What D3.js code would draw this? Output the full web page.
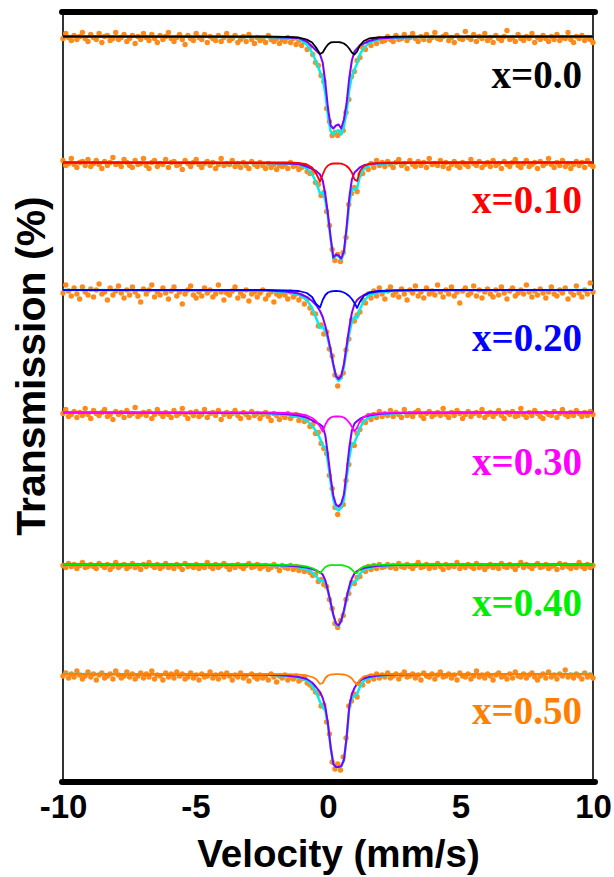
<!DOCTYPE html>
<html>
<head>
<meta charset="utf-8">
<script src="https://cdn.jsdelivr.net/npm/d3@7"></script>
<style>
  body { margin: 0; background: #fff; }
  svg { display: block; }
</style>
</head>
<body>
<svg id="chart" width="614" height="877"></svg>
<script>
// ---- data ----------------------------------------------------------------
const compositions = ["x=0.0", "x=0.10", "x=0.20", "x=0.30", "x=0.40", "x=0.50"];
const doubletColors = ["#000000", "#ff0000", "#0000ff", "#ff00ff", "#00ee00", "#ff8000"];
const xTicks = [-10, -5, 0, 5, 10];
const velocityRange = [-10, 10];          // mm/s
const channelCount = 192;                  // folded spectrum channels
const transmissionRange = [102.45, 25.45]; // stacked transmission (%) shown top -> bottom
const stackShift = [0, 12.6, 25.35, 37.6, 52.8, 63.75]; // vertical offset of each spectrum (%)

// measured absorption (100 - transmission, %) per channel
const obs_x00 = [
0.2,-0.3,0.1,0.4,-0.1,0.3,0.0,-0.4,0.2,0.5,
-0.2,0.1,0.3,-0.3,0.6,0.0,-0.1,0.4,0.2,-0.4,
0.3,0.1,-0.2,0.5,0.2,-0.1,0.7,0.0,0.3,-0.3,
0.1,0.4,-0.2,0.2,0.6,-0.1,0.3,0.0,-0.4,0.2,
0.5,0.1,-0.2,0.3,0.8,-0.1,0.2,0.4,-0.3,0.1,
0.3,-0.2,0.6,0.0,0.2,0.4,-0.1,0.5,0.1,-0.3,
0.4,0.2,-0.1,0.6,0.3,0.0,0.5,-0.2,0.3,0.7,
0.1,0.4,0.2,0.6,-0.1,0.3,0.5,0.2,0.7,0.3,
0.5,0.1,0.6,0.2,0.8,0.4,
0.9,0.5,1.3,1.0,1.8,2.6,2.9,3.9,4.5,7.2,
8.5,9.9,9.6,9.9,9.6,9.4,7.6,6.3,4.0,3.5,
2.4,2.1,1.1,1.3,0.6,0.9,0.3,0.7,0.2,0.5,
0.4,0.0,0.3,0.5,-0.1,0.3,0.2,-0.2,0.4,0.1,
-0.3,0.2,0.5,0.0,0.3,-0.2,0.4,0.1,-0.4,0.2,
0.3,0.0,-0.2,0.4,0.1,0.6,-0.1,0.2,0.3,-0.5,
0.1,0.3,-0.2,0.5,0.0,0.2,-0.3,0.4,0.1,0.6,
-0.1,0.2,0.4,0.0,-0.6,0.3,0.1,0.5,-0.2,0.2,
0.4,0.0,0.2,-0.3,0.6,0.1,0.3,-0.1,0.2,0.5,
0.0,0.3,-0.2,0.4,0.1,0.2,-0.4,0.3,0.6,0.0,
0.2,-0.1,0.4,0.1,0.3,0.6];
const obs_x10 = [
-0.2,0.3,0.1,-0.4,0.2,0.5,0.0,-0.1,0.3,-0.3,
0.4,0.1,-0.2,0.2,0.6,-0.1,0.3,0.0,-0.5,0.2,
0.1,0.4,-0.3,0.0,0.3,0.5,-0.2,0.2,0.1,-0.4,
0.3,0.6,0.0,-0.2,0.4,0.1,0.2,-0.3,0.5,0.0,
-0.1,0.3,0.2,0.7,-0.2,0.1,0.4,0.0,-0.3,0.2,
0.5,0.1,-0.1,0.3,0.0,0.6,0.2,-0.4,0.3,0.1,
0.2,-0.2,0.4,0.1,0.5,0.0,0.3,0.6,-0.1,0.2,
0.4,0.0,0.3,0.6,0.1,0.5,0.2,0.7,0.3,0.4,
0.2,0.6,0.0,0.4,0.3,0.7,
0.5,0.3,0.9,1.1,1.0,2.0,2.2,3.3,3.0,4.9,
6.3,8.7,9.8,9.2,9.9,9.0,7.5,4.2,3.1,2.5,
2.9,1.2,1.1,0.4,0.7,0.1,0.5,-0.2,0.3,0.0,
0.4,-0.1,0.2,0.5,0.0,-0.3,0.3,0.1,0.6,-0.2,
0.2,0.4,-0.1,0.3,0.0,0.5,-0.4,0.2,0.1,0.3,
-0.2,0.4,0.0,0.6,0.2,-0.1,0.3,0.5,0.0,0.2,
0.4,-0.3,0.1,0.3,-0.1,0.5,0.2,0.0,0.4,-0.2,
0.3,0.1,0.6,-0.1,0.2,0.4,0.0,-0.3,0.3,0.5,
0.1,-0.2,0.4,0.2,0.0,0.6,-0.1,0.3,0.1,-0.4,
0.2,0.5,0.0,0.3,-0.2,0.4,0.1,0.6,0.2,-0.1,
0.3,0.0,0.5,-0.2,0.2,0.4];
const obs_x20 = [
0.3,-0.5,0.1,0.6,-0.2,0.4,0.9,-0.3,0.2,0.5,
-0.1,0.7,0.0,-0.6,0.4,0.2,1.0,-0.2,0.5,0.1,
-0.4,0.3,0.8,0.0,0.5,-0.3,0.2,0.6,1.2,-0.1,
0.4,0.0,-0.5,0.7,0.2,0.5,-0.2,0.3,0.9,0.1,
-0.3,0.6,0.2,1.4,0.4,0.0,-0.4,0.5,0.8,0.2,
0.6,-0.2,0.3,0.0,0.7,0.4,-0.5,0.2,1.0,0.3,
0.5,0.1,-0.3,0.8,0.3,0.6,0.0,1.1,0.4,0.2,
0.7,0.3,0.0,0.9,0.5,0.2,1.2,0.4,0.6,0.3,
0.5,0.9,0.2,0.7,0.4,1.0,
0.6,1.4,0.9,1.8,2.3,2.4,3.6,3.5,4.4,4.2,
5.9,6.6,8.5,9.6,8.7,8.3,6.0,4.9,3.0,3.1,
2.5,2.2,1.0,1.3,0.4,0.8,0.1,0.6,-0.2,0.4,
0.9,0.1,-0.3,0.5,0.2,0.7,-0.1,0.4,1.0,0.0,
0.3,-0.4,0.6,0.2,0.8,-0.2,0.4,0.1,0.5,-0.5,
0.2,0.7,0.0,0.4,-0.3,0.6,0.2,1.3,0.1,-0.2,
0.5,0.3,-0.4,0.6,0.0,0.8,0.2,-0.1,0.4,0.7,
0.0,0.5,-0.3,0.3,0.9,0.1,-0.2,0.6,0.3,0.0,
0.4,-0.5,0.2,0.7,0.1,0.5,-0.1,0.3,0.8,0.2,
-0.3,0.4,0.6,0.0,0.3,-0.2,0.9,0.2,0.5,-0.4,
0.3,0.7,0.0,0.4,-0.7,0.2];
const obs_x30 = [
0.1,-0.3,0.4,0.2,-0.1,0.5,0.0,0.3,-0.4,0.2,
0.6,-0.2,0.1,0.3,0.0,-0.3,0.4,0.2,0.7,-0.1,
0.2,0.0,0.5,-0.2,0.3,0.1,-0.5,0.4,0.2,0.0,
0.3,-0.1,0.6,0.2,-0.3,0.1,0.4,0.0,0.2,0.5,
-0.2,0.3,0.1,-0.4,0.2,0.6,0.0,0.3,-0.1,0.4,
0.2,-0.3,0.5,0.1,0.0,0.3,-0.2,0.7,0.2,0.0,
0.4,0.1,-0.2,0.3,0.6,0.0,0.2,0.5,-0.1,0.3,
0.1,0.6,0.2,0.0,0.4,0.8,0.1,0.3,0.7,0.2,
0.5,0.1,0.6,0.3,0.2,0.8,
0.4,0.9,0.7,1.4,1.2,2.1,2.0,3.1,3.6,4.1,
6.3,7.6,9.5,10.2,9.4,9.2,6.8,5.2,3.2,3.3,
2.1,1.7,0.9,1.0,0.3,0.7,0.2,0.5,-0.1,0.4,
0.1,0.3,-0.2,0.4,0.0,0.2,0.5,-0.3,0.3,0.1,
0.4,0.0,-0.2,0.3,0.6,0.1,-0.1,0.4,0.2,0.0,
0.3,-0.4,0.2,0.5,0.0,0.3,-0.2,0.1,0.6,0.2,
-0.1,0.4,0.1,0.0,0.3,-0.3,0.5,0.2,0.0,0.4,
0.1,-0.2,0.3,0.6,0.0,0.2,-0.1,0.4,0.3,-0.4,
0.2,0.5,0.0,0.3,-0.2,0.1,0.4,0.6,0.0,0.2,
0.3,-0.1,0.5,0.1,-0.3,0.2,0.4,0.0,0.3,-0.2,
0.1,0.4,0.0,0.3,-0.1,0.2];
const obs_x40 = [
0.1,0.3,-0.1,0.2,0.0,0.4,0.1,-0.2,0.3,0.2,
0.0,0.2,0.4,-0.1,0.1,0.3,0.0,0.5,0.2,-0.2,
0.3,0.1,0.0,0.4,0.2,-0.1,0.3,0.1,0.5,0.0,
0.2,-0.2,0.1,0.3,0.0,0.4,0.2,-0.1,0.3,0.1,
0.4,0.0,0.2,0.5,-0.1,0.2,0.1,0.3,0.0,0.4,
0.1,0.3,-0.2,0.2,0.4,0.0,0.3,0.1,-0.1,0.2,
0.5,0.1,0.3,0.0,0.2,0.4,0.1,-0.1,0.3,0.2,
0.0,0.4,0.2,0.1,0.5,0.3,0.0,0.2,0.6,0.1,
0.3,0.4,0.1,0.5,0.2,0.6,
0.3,0.7,0.5,0.8,1.1,1.0,1.7,1.5,2.0,2.2,
3.5,4.4,5.9,6.3,5.6,5.1,3.5,2.9,1.8,1.9,
1.3,1.2,0.5,0.7,0.2,0.5,0.1,0.4,0.0,0.3,
0.2,0.0,0.3,0.1,0.4,-0.1,0.2,0.3,0.0,0.2,
0.4,0.1,-0.2,0.3,0.2,0.0,0.4,0.1,0.3,-0.1,
0.2,0.5,0.0,0.3,0.1,0.2,-0.2,0.4,0.1,0.3,
0.0,0.2,0.4,-0.1,0.3,0.1,0.5,0.2,0.0,0.3,
0.1,0.4,-0.1,0.2,0.3,0.0,0.2,0.5,0.1,-0.2,
0.3,0.0,0.2,0.4,0.1,-0.1,0.3,0.2,0.0,0.4,
0.2,0.1,0.5,-0.1,0.3,0.0,0.2,0.4,0.1,0.3,
-0.2,0.2,0.4,0.0,0.3,0.1];
const obs_x50 = [
0.2,-0.1,0.4,0.0,0.3,-0.3,0.1,0.5,0.2,-0.2,
0.3,0.0,0.6,0.1,-0.1,0.4,0.2,0.0,0.5,-0.3,
0.1,0.4,0.2,-0.2,0.3,0.0,0.5,0.2,-0.1,0.4,
0.0,0.3,-0.3,0.5,0.1,0.2,0.6,-0.1,0.3,0.0,
0.4,-0.2,0.2,0.0,0.5,0.3,-0.1,0.4,0.1,0.6,
0.0,0.3,0.2,-0.2,0.4,0.1,0.5,0.0,0.3,-0.1,
0.2,0.6,0.1,0.3,-0.1,0.4,0.2,0.7,0.0,0.3,
0.5,0.1,0.4,0.2,0.6,0.0,0.3,0.8,0.2,0.4,
0.1,0.6,0.3,0.5,0.2,0.7,
0.5,0.3,0.9,1.1,1.4,1.8,2.0,3.2,3.1,4.8,
6.0,8.8,9.5,9.0,9.6,8.3,6.4,3.2,2.7,2.0,
2.3,1.0,1.1,0.4,0.7,0.2,0.5,0.0,0.4,0.1,
0.3,-0.1,0.4,0.2,0.0,0.5,0.1,-0.2,0.3,0.2,
0.0,0.4,0.1,0.6,-0.1,0.2,0.3,0.0,0.5,0.1,
-0.2,0.3,0.2,0.0,0.4,0.1,0.6,-0.1,0.2,0.3,
0.0,0.5,0.2,-0.3,0.3,0.1,0.4,0.0,0.2,0.6,
0.1,-0.1,0.3,0.2,0.5,0.0,0.4,-0.2,0.2,0.3,
0.0,0.4,0.1,-0.1,0.3,0.6,0.2,0.0,0.4,-0.2,
0.3,0.1,0.5,0.0,0.2,-0.4,0.3,0.1,0.4,0.0,
0.2,0.5,-0.1,0.3,0.1,0.4];

// fitted sub-spectra (absorption, %) at these velocities (mm/s)
const fitVelocity = [-10, -2.4, -1.6, -1.1, -0.8, -0.6, -0.45, -0.3, -0.2, -0.1, 0, 0.1, 0.2, 0.3, 0.4, 0.5, 0.6, 0.7, 0.8, 0.9, 1.0, 1.1, 1.2, 1.35, 1.55, 1.9, 2.5, 3.4, 10];

const total_x00 = [0,0.05,0.13,0.25,0.8,1.6,2.5,3.55,4.2,5.75,8.0,9.5,9.77,9.47,9.37,9.8,9.0,7.6,5.4,4.0,3.3,2.7,1.8,1.15,0.65,0.28,0.12,0.05,0];
const main_x00  = [0,0.05,0.1,0.15,0.5,1.0,1.4,1.8,2.6,4.6,7.2,8.9,9.2,8.9,8.8,9.2,8.3,6.7,4.2,2.4,1.5,1.2,0.9,0.7,0.45,0.2,0.1,0.05,0];
const dbl_x00   = [0,0,0.03,0.1,0.3,0.6,1.1,1.75,1.6,1.15,0.8,0.6,0.57,0.57,0.57,0.6,0.7,0.9,1.2,1.6,1.8,1.5,0.9,0.45,0.2,0.08,0.02,0,0];

const total_x10 = [0,0.05,0.1,0.2,0.6,1.15,1.95,3.1,3.0,3.8,5.5,7.65,9.6,9.3,9.4,9.72,9.1,6.85,4.2,2.7,2.7,2.6,1.4,0.65,0.3,0.13,0.05,0.02,0];
const main_x10  = [0,0.05,0.1,0.15,0.4,0.65,0.85,1.2,1.8,3.2,5.2,7.5,9.5,9.2,9.3,9.6,8.9,6.5,3.6,1.7,1.0,0.75,0.5,0.3,0.15,0.08,0.05,0.02,0];
const dbl_x10   = [0,0,0,0.05,0.2,0.5,1.1,1.9,1.2,0.6,0.3,0.15,0.1,0.1,0.1,0.12,0.2,0.35,0.6,1.0,1.7,1.85,0.9,0.35,0.15,0.05,0,0,0];

const total_x20 = [0,0.05,0.2,0.45,1.0,1.8,2.8,3.8,3.7,4.1,4.95,6.15,7.5,8.7,9.1,8.8,7.7,6.0,4.4,3.2,2.7,2.8,1.95,1.1,0.55,0.25,0.08,0.02,0];
const main_x20  = [0,0.03,0.15,0.35,0.7,1.1,1.5,2.1,2.7,3.6,4.7,6.0,7.4,8.6,8.9,8.6,7.4,5.6,3.8,2.3,1.4,1.0,0.75,0.5,0.3,0.15,0.05,0.02,0];
const dbl_x20   = [0,0,0.03,0.1,0.3,0.7,1.4,1.75,1.0,0.5,0.25,0.15,0.12,0.1,0.12,0.15,0.25,0.4,0.6,0.9,1.3,1.8,1.2,0.6,0.25,0.1,0.03,0,0];

const total_x30 = [0,0.05,0.2,0.45,0.8,1.35,1.85,2.6,3.3,3.5,5.0,7.0,8.7,9.6,9.8,9.5,8.7,6.7,4.6,3.2,3.0,2.35,1.55,0.9,0.5,0.23,0.07,0.02,0];
const main_x30  = [0,0.05,0.15,0.3,0.5,0.8,1.0,1.2,1.4,2.3,4.3,6.5,8.3,9.2,9.4,9.1,8.2,6.0,3.6,1.8,1.1,0.85,0.65,0.45,0.3,0.15,0.05,0.02,0];
const dbl_x30   = [0,0,0.05,0.15,0.3,0.55,0.85,1.4,1.9,1.2,0.75,0.5,0.42,0.4,0.4,0.42,0.5,0.7,1.0,1.4,1.9,1.5,0.9,0.45,0.2,0.08,0.02,0,0];

const total_x40 = [0,0.03,0.13,0.28,0.5,0.8,1.15,1.7,1.6,1.85,2.7,3.9,5.05,5.95,6.15,5.65,4.7,3.5,2.5,1.9,1.7,1.5,0.95,0.55,0.35,0.16,0.05,0.02,0];
const main_x40  = [0,0.03,0.1,0.2,0.3,0.45,0.6,0.8,1.0,1.6,2.6,3.8,5.0,5.9,6.1,5.6,4.6,3.3,2.2,1.4,0.9,0.65,0.5,0.35,0.25,0.12,0.05,0.02,0];
const dbl_x40   = [0,0,0.03,0.08,0.2,0.35,0.55,0.88,0.55,0.25,0.12,0.07,0.06,0.06,0.06,0.07,0.1,0.18,0.3,0.5,0.8,0.85,0.45,0.2,0.1,0.04,0,0,0];

const total_x50 = [0,0.05,0.17,0.36,0.65,1.15,1.8,2.8,3.3,3.7,5.15,7.35,9.0,9.3,9.3,9.25,8.65,6.5,3.55,2.45,2.2,2.0,1.3,0.7,0.4,0.19,0.05,0.02,0];
const main_x50  = [0,0.05,0.15,0.3,0.5,0.85,1.3,1.8,2.4,3.3,5.0,7.3,9.0,9.3,9.3,9.2,8.6,6.4,3.3,2.0,1.4,0.95,0.7,0.45,0.3,0.15,0.05,0.02,0];
const dbl_x50   = [0,0,0.02,0.06,0.15,0.3,0.5,1.0,0.9,0.4,0.15,0.06,0.03,0.02,0.02,0.03,0.05,0.12,0.25,0.45,0.8,1.05,0.6,0.25,0.1,0.04,0,0,0];

const spectra = [
  { obs: obs_x00, total: total_x00, main: main_x00, dbl: dbl_x00 },
  { obs: obs_x10, total: total_x10, main: main_x10, dbl: dbl_x10 },
  { obs: obs_x20, total: total_x20, main: main_x20, dbl: dbl_x20 },
  { obs: obs_x30, total: total_x30, main: main_x30, dbl: dbl_x30 },
  { obs: obs_x40, total: total_x40, main: main_x40, dbl: dbl_x40 },
  { obs: obs_x50, total: total_x50, main: main_x50, dbl: dbl_x50 }
];

// ---- layout ----------------------------------------------------------------
const W = 614, H = 877;
const plot = { left: 63, right: 593, top: 12, bottom: 782 };
const labelBaselines = [88, 213, 351, 475, 616, 724];
const dotColor = "#ff8a1c";
const totalColor = "#00eeee";
const mainColor = "#8000ff";

const svg = d3.select("#chart");
svg.append("rect").attr("width", W).attr("height", H).attr("fill", "#fff");

const x = d3.scaleLinear().domain(velocityRange).range([plot.left, plot.right]);
const y = d3.scaleLinear().domain(transmissionRange).range([plot.top, plot.bottom]);
const channelVelocity = d3.scaleLinear().domain([0, channelCount - 1]).range(velocityRange);

// frame: thin sides, heavy top and bottom rules
svg.append("line")
  .attr("x1", plot.left).attr("x2", plot.left)
  .attr("y1", plot.top).attr("y2", plot.bottom)
  .attr("stroke", "#000").attr("stroke-width", 1.6);
svg.append("line")
  .attr("x1", plot.right).attr("x2", plot.right)
  .attr("y1", plot.top).attr("y2", plot.bottom)
  .attr("stroke", "#000").attr("stroke-width", 1.6);

// spectra
spectra.forEach((s, k) => {
  const shift = stackShift[k];
  const g = svg.append("g").attr("class", "spectrum");

  g.selectAll("circle")
    .data(s.obs)
    .join("circle")
    .attr("cx", (a, i) => x(channelVelocity(i)))
    .attr("cy", a => y(100 - a - shift))
    .attr("r", 2.7)
    .attr("fill", dotColor);

  const fitLine = d3.line()
    .x((a, i) => x(fitVelocity[i]))
    .y(a => y(100 - a - shift));

  g.append("path").attr("d", fitLine(s.total))
    .attr("fill", "none").attr("stroke", totalColor).attr("stroke-width", 2.4)
    .attr("stroke-linejoin", "round");
  g.append("path").attr("d", fitLine(s.main))
    .attr("fill", "none").attr("stroke", mainColor).attr("stroke-width", 2)
    .attr("stroke-linejoin", "round");
  g.append("path").attr("d", fitLine(s.dbl))
    .attr("fill", "none").attr("stroke", doubletColors[k]).attr("stroke-width", 1.8)
    .attr("stroke-linejoin", "round");

  svg.append("text")
    .attr("x", 582).attr("y", labelBaselines[k])
    .attr("text-anchor", "end")
    .attr("font-family", "'Liberation Serif', 'Times New Roman', serif")
    .attr("font-weight", "bold")
    .attr("font-size", 39)
    .attr("fill", doubletColors[k])
    .text(compositions[k]);
});

// heavy top / bottom rules
[plot.top, plot.bottom].forEach(yy => {
  svg.append("line")
    .attr("x1", plot.left - 1).attr("x2", plot.right + 2)
    .attr("y1", yy).attr("y2", yy)
    .attr("stroke", "#000").attr("stroke-width", 6)
    .attr("stroke-linecap", "round");
});

// x axis labels
const xAxis = d3.axisBottom(x)
  .tickValues(xTicks)
  .tickSize(0)
  .tickPadding(13)
  .tickFormat(d => String(d));
const axisG = svg.append("g")
  .attr("transform", `translate(0,${plot.bottom})`)
  .call(xAxis);
axisG.select(".domain").remove();
axisG.selectAll("text")
  .attr("font-family", "'Liberation Sans', Arial, sans-serif")
  .attr("font-weight", "bold")
  .attr("font-size", 33)
  .attr("fill", "#000");

// axis titles
svg.append("text")
  .attr("x", 338.5).attr("y", 867)
  .attr("text-anchor", "middle")
  .attr("font-family", "'Liberation Sans', Arial, sans-serif")
  .attr("font-weight", "bold")
  .attr("font-size", 38.5)
  .text("Velocity (mm/s)");

svg.append("text")
  .attr("transform", "translate(45,366) rotate(-90)")
  .attr("text-anchor", "middle")
  .attr("font-family", "'Liberation Sans', Arial, sans-serif")
  .attr("font-weight", "bold")
  .attr("font-size", 41)
  .text("Transmission (%)");
</script>
</body>
</html>
